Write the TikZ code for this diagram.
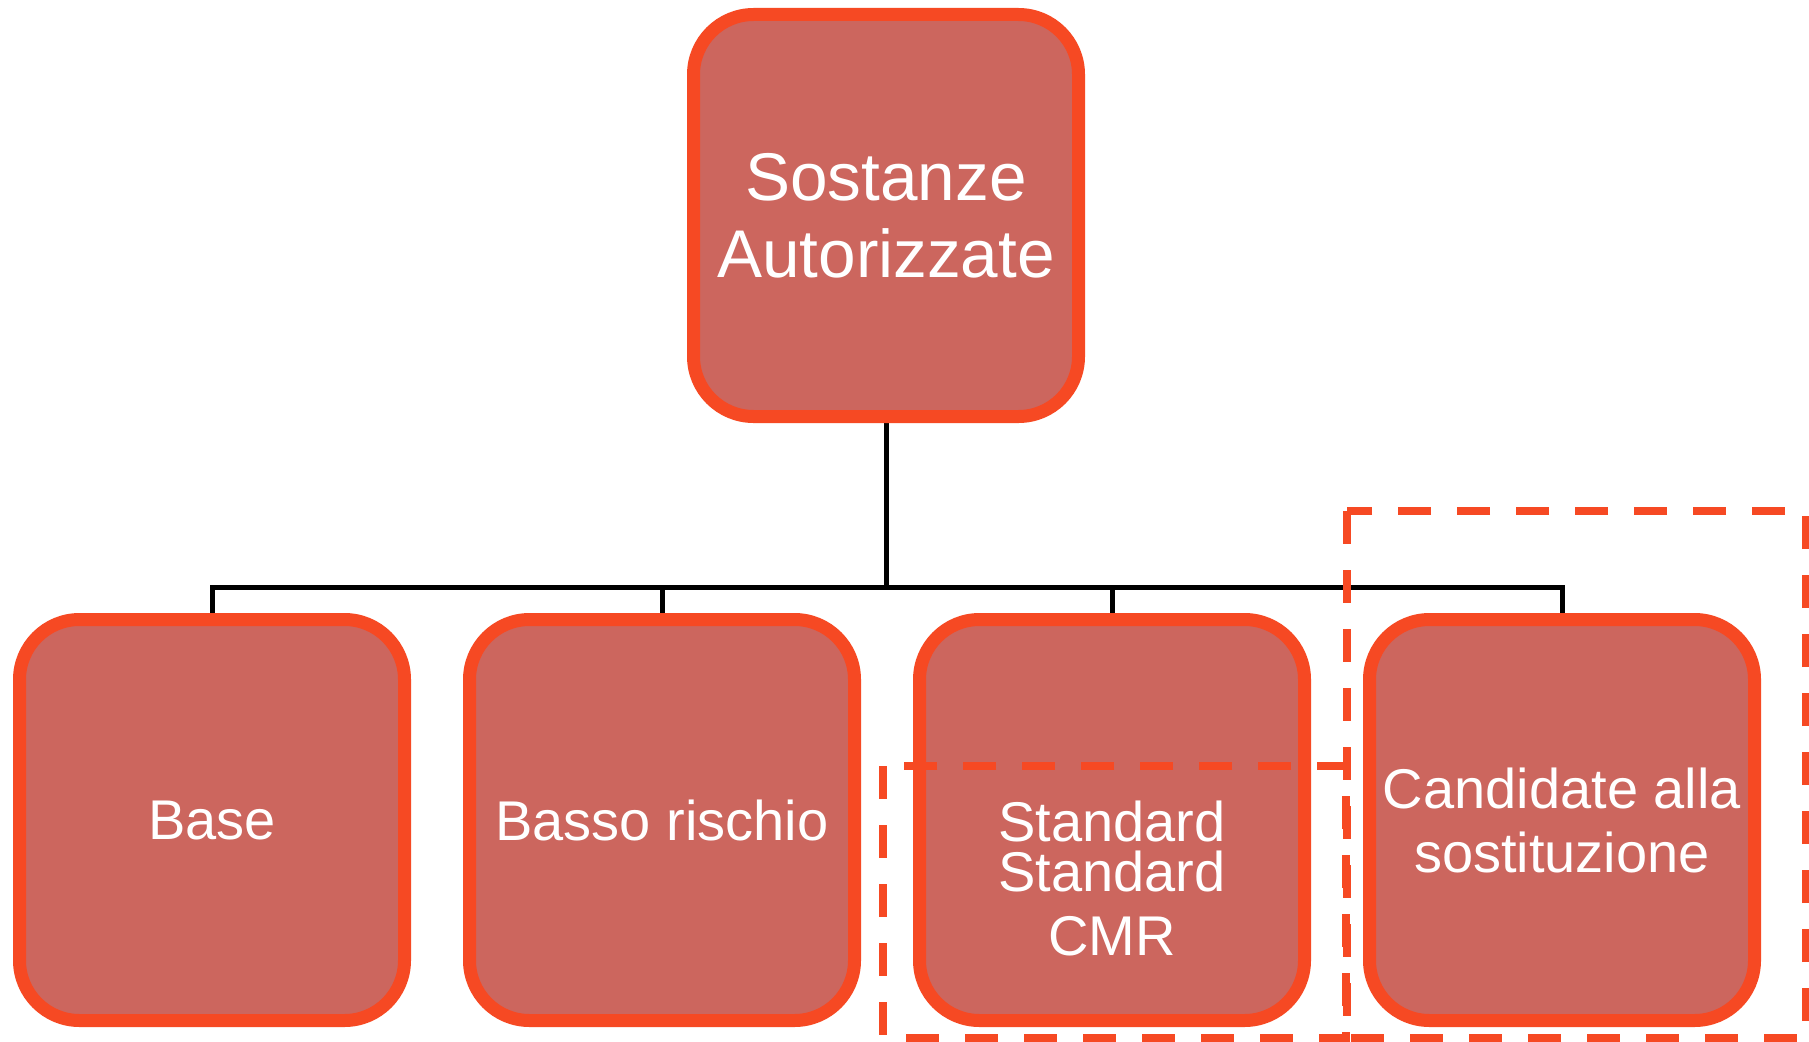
\documentclass[tikz,border=0pt]{standalone}
\usepackage{fontspec}
\setmainfont{Liberation Sans}
\usepackage{tikz}
\usetikzlibrary{positioning}
\usetikzlibrary{backgrounds}
\definecolor{boxfill}{RGB}{204,102,94}
\definecolor{boxline}{RGB}{246,73,35}
\tikzset{basic box/.style={draw=boxline,
                           fill=boxfill,
                           line width=13pt,
                           rounded corners=60pt,
                           text=white,
                           align=center}}
\tikzset{box/.style={basic box,minimum width=385pt,minimum height=401pt,inner sep=0pt}}
\tikzset{link/.style={draw,black,line width=5pt}}
\tikzset{group/.style={draw=boxline,line width=8pt,dash pattern=on 33pt off 26pt}}
\newcommand{\BIGTXT}{\fontsize{67.5}{77}\selectfont}
\newcommand{\SMALLTXT}{\fontsize{56}{64}\selectfont}

\begin{document}
\begin{tikzpicture}[x=1pt,y=-1pt]
  \useasboundingbox (0,0) rectangle (1809,1041);

  % boxes
  \node [box,minimum height=402pt,font=\BIGTXT] (sostanze) at (886,215.5) {Sostanze\\Autorizzate};

  \node [box,font=\SMALLTXT] (base) at (212,820) {Base};
  \node [box,font=\SMALLTXT,right=52pt of base] (basso) {Basso rischio};
  \node [box,font=\SMALLTXT,right=52pt of basso] (standard) {};
  \node [box,font=\SMALLTXT,right=52pt of standard] (candidate) {Candidate alla\\sostituzione};

  \node [font=\SMALLTXT,text=white,align=center,inner sep=0pt] (standard text)
  at ([yshift=-58pt]standard.center) {Standard\\[-14pt]Standard\\CMR};

  % edges
  \begin{scope}[on background layer]
    \coordinate (bus) at (886,587);
    \draw [link] (sostanze.south) -- (bus);
    \foreach \b in {base,basso,standard,candidate}
    \draw [link] (bus) -| (\b.north);
  \end{scope}

  % dashed groups
  \draw [group] (883,766) rectangle (1346,1038);
  \draw [group] (1347,511) rectangle (1806,1038);

\end{tikzpicture}
\end{document}
